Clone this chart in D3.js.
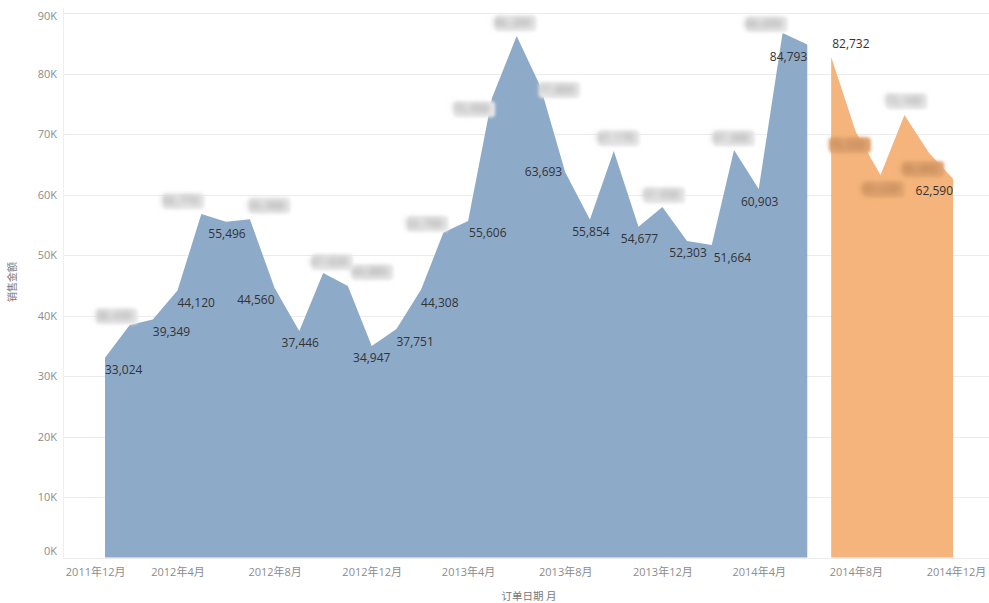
<!DOCTYPE html>
<html>
<head>
<meta charset="utf-8">
<script src="https://cdn.jsdelivr.net/npm/d3@7"></script>
<style>
  html, body { margin: 0; padding: 0; background: #fff; }
  svg { display: block; }
</style>
</head>
<body>
<script>
// Monthly sales, Jan 2012 – Jun 2014 (actual) and Jul – Dec 2014 (second series)
const actualMonths = d3.range(30).map(i => new Date(2012, i, 1));
const actualValues = [33024, 38430, 39349, 44120, 56770, 55496, 55900, 44560, 37446, 47020,
                      44880, 34947, 37751, 44308, 53700, 55606, 75950, 86200, 77800, 63693,
                      55854, 67170, 54677, 57930, 52303, 51664, 67360, 60903, 86690, 84793];
const laterMonths = d3.range(6).map(i => new Date(2014, 6 + i, 1));
const laterValues = [82732, 70330, 63220, 73140, 66860, 62590];

// Marks whose value label is obscured (drawn blurred)
const actualHidden = [1, 4, 6, 9, 10, 14, 16, 17, 18, 21, 23, 26, 28];
const laterHidden = [1, 2, 3, 4];

const yTicks = d3.range(0, 90001, 10000);
const xTicks = d3.range(0, 37, 4).map(i => new Date(2011, 11 + i, 1));

const W = 989, H = 603;
const left = 63, right = 989;

const svg = d3.select("body").append("svg").attr("width", W).attr("height", H);

const defs = svg.append("defs");
defs.append("filter").attr("id", "smudge")
  .attr("x", "-40%").attr("y", "-80%").attr("width", "180%").attr("height", "260%")
  .append("feGaussianBlur").attr("stdDeviation", 3.2);
defs.append("filter").attr("id", "soft")
  .attr("x", "-30%").attr("y", "-60%").attr("width", "160%").attr("height", "220%")
  .append("feGaussianBlur").attr("stdDeviation", 1.6);

const x = d3.scaleTime()
  .domain([new Date(2012, 0, 1), new Date(2014, 11, 1)])
  .range([105, 953]);
const y = d3.scaleLinear().domain([0, 90000]).range([557.5, 13]);

const axisFont = "'Open Sans', 'Noto Sans CJK SC', sans-serif";

// Y axis with gridlines
const yAxis = svg.append("g")
  .attr("transform", `translate(${left},0)`)
  .call(d3.axisLeft(y).tickValues(yTicks).tickSize(-(right - left)).tickPadding(6)
    .tickFormat(d => (d / 1000) + "K"));
yAxis.select(".domain").remove();
yAxis.selectAll(".tick line").attr("stroke", "#ececec").attr("shape-rendering", "crispEdges");
yAxis.selectAll(".tick text")
  .attr("fill", "#8c8c8c").style("font-family", axisFont).style("font-size", "11px")
  .attr("dy", d => d === 0 ? "-0.25em" : d === 90000 ? "0.6em" : "0.32em");

// faint vertical pane edge
svg.append("line")
  .attr("x1", left + 0.5).attr("x2", left + 0.5).attr("y1", 8).attr("y2", 558)
  .attr("stroke", "#efefef");

// Areas
const area = d3.area()
  .x(d => x(d.date))
  .y0(y(0))
  .y1(d => y(d.value));

const actual = actualMonths.map((d, i) => ({ date: d, value: actualValues[i] }));
const later = laterMonths.map((d, i) => ({ date: d, value: laterValues[i] }));

svg.append("path").datum(actual).attr("d", area).attr("fill", "#8eaac9");
svg.append("path").datum(later).attr("d", area).attr("fill", "#f4b47b");

// X axis
const xAxis = svg.append("g")
  .attr("transform", `translate(0,${y(0)})`)
  .call(d3.axisBottom(x).tickValues(xTicks).tickSize(0).tickPadding(11)
    .tickFormat(d => `${d.getFullYear()}年${d.getMonth() + 1}月`));
xAxis.select(".domain").remove();
xAxis.selectAll(".tick text")
  .attr("fill", "#8c8c8c").style("font-family", axisFont).style("font-size", "11px");
xAxis.selectAll(".tick text").filter((d, i) => i === 0)
  .attr("text-anchor", "start").attr("dx", -15);
xAxis.selectAll(".tick text").filter((d, i) => i === xTicks.length - 1)
  .attr("dx", 3);

// Axis titles
svg.append("text")
  .attr("transform", "translate(16,282) rotate(-90)")
  .attr("text-anchor", "middle")
  .attr("fill", "#777").style("font-family", "'Noto Sans CJK SC', sans-serif").style("font-size", "10px")
  .text("销售金额");
svg.append("text")
  .attr("x", 529).attr("y", 600)
  .attr("text-anchor", "middle")
  .attr("fill", "#777").style("font-family", "'Noto Sans CJK SC', sans-serif").style("font-size", "10.5px")
  .text("订单日期 月");

// Label placement per mark: [anchor, dx, dy] relative to the point
const actualPlace = [
  ["start", 0, 12], ["end", 3, -9], ["start", 0, 12], ["start", 0, 12], ["end", -2, -13],
  ["middle", 1, 12], ["start", -2, -14], ["end", 0, 12], ["middle", 1, 12], ["middle", 6, -11],
  ["start", 3, -14], ["middle", 0, 12], ["start", 0, 13], ["start", 0, 13], ["end", 0, -9],
  ["start", 1, 12], ["end", -2, 11], ["middle", -4, -13], ["start", -3, 3], ["end", -3, 0],
  ["middle", 1, 12], ["middle", 2, -13], ["middle", 1, 12], ["middle", -1, -12], ["middle", 1, 12],
  ["start", 2, 13], ["middle", -3, -12], ["middle", 1, 13], ["end", 0, -9], ["end", 0, 12]
];
const laterPlace = [
  ["start", 1, -13], ["end", 10, 13], ["middle", 0, 14], ["middle", -1, -14], ["end", 10, 16],
  ["end", 0, 12]
];

// top edge of a series' area at a pixel x (null outside the series)
function areaTop(data, px) {
  const xs = data.map(d => x(d.date));
  if (px < xs[0] || px > xs[xs.length - 1]) return null;
  const i = Math.max(1, d3.bisectLeft(xs, px));
  const t = (px - xs[i - 1]) / (xs[i] - xs[i - 1]);
  return y(data[i - 1].value) + t * (y(data[i].value) - y(data[i - 1].value));
}

const fmt = d3.format(",");
function drawLabels(data, place, hidden, inside, outside) {
  const g = svg.append("g")
    .style("font-family", "'Open Sans', sans-serif").style("font-size", "12px");
  const labels = g.selectAll("text").data(data).join("text")
    .attr("x", (d, i) => x(d.date) + place[i][1])
    .attr("y", (d, i) => y(d.value) + place[i][2])
    .attr("dy", "0.35em")
    .attr("text-anchor", (d, i) => place[i][0])
    .attr("fill", "#333")
    .text(d => fmt(d.value));

  // obscured labels: a soft patch behind a heavily blurred value
  labels.filter((d, i) => hidden.includes(i)).each(function () {
    const b = this.getBBox();
    const top = areaTop(data, b.x + b.width / 2);
    const tone = top !== null && b.y + b.height / 2 > top ? inside : outside;
    g.insert("rect", () => this)
      .attr("x", b.x + 1).attr("y", b.y + 1)
      .attr("width", b.width + 4).attr("height", b.height - 1)
      .attr("rx", 4)
      .attr("fill", tone[0])
      .attr("filter", "url(#soft)");
    d3.select(this)
      .attr("fill", tone[1])
      .style("font-weight", "700")
      .attr("filter", "url(#smudge)");
  });
}
const greyTone = ["#e9e9e9", "#a9a9a9"];
drawLabels(actual, actualPlace, actualHidden, greyTone, greyTone);
drawLabels(later, laterPlace, laterHidden, ["#e3a672", "#b98150"], greyTone);
</script>
</body>
</html>
